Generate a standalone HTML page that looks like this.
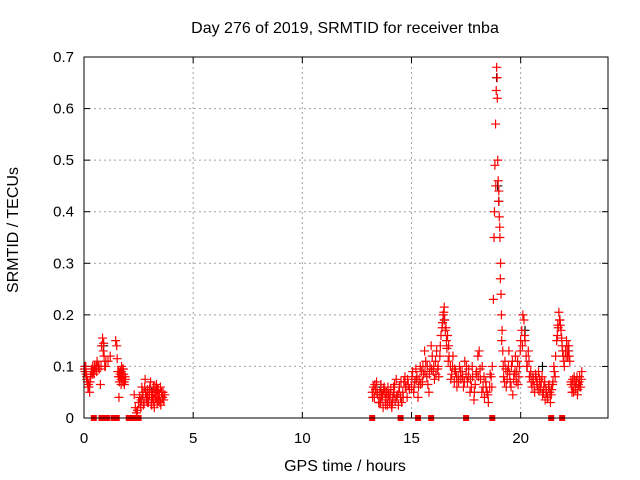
<!DOCTYPE html>
<html><head><meta charset="utf-8"><style>
body{margin:0;background:#fff}
svg{display:block;font-family:"Liberation Sans",sans-serif}
</style></head><body>
<svg id="chart" width="640" height="480">
<text x="345" y="33" font-size="16" text-anchor="middle">Day 276 of 2019, SRMTID for receiver tnba</text>
<text x="18" y="230" font-size="16" text-anchor="middle" transform="rotate(-90 18 230)">SRMTID / TECUs</text>
<text x="345" y="471" font-size="16" text-anchor="middle">GPS time / hours</text>
<g id="grid"></g>
<g id="ticks"></g>
<g id="marks"></g>
<rect x="84" y="57" width="524" height="361" fill="none" stroke="#000"/>
</svg>
<script>
const xTicks=[0,5,10,15,20];
const yTicks=[0,0.1,0.2,0.3,0.4,0.5,0.6,0.7];
const yTickLabels=["0","0.1","0.2","0.3","0.4","0.5","0.6","0.7"];
const times=[0.02,0.05,0.08,0.1,0.13,0.16,0.2,0.23,0.26,0.3,0.33,0.36,0.4,0.43,0.46,0.5,0.55,0.6,0.65,0.7,0.75,0.8,0.85,0.88,0.9,0.92,0.95,1.0,1.1,1.2,
1.45,1.5,1.52,1.55,1.58,1.6,1.62,1.65,1.68,1.7,1.72,1.75,1.78,1.8,1.82,1.85,1.88,1.9,
2.3,2.35,2.4,2.5,2.55,2.6,2.65,2.7,2.75,2.8,2.85,2.9,2.95,3.0,3.05,3.1,3.15,3.2,3.25,3.3,3.35,3.4,3.45,3.5,3.55,3.6,3.65,3.7,
2.62,2.72,2.82,2.92,3.02,3.12,3.22,3.32,3.42,3.52,3.62,
13.2,13.25,13.3,13.35,13.4,13.45,13.5,13.55,13.6,13.65,13.7,13.75,13.8,13.85,13.9,13.95,14.0,14.05,14.1,14.15,14.2,14.25,14.3,14.35,14.4,14.45,14.5,14.55,14.6,14.65,14.7,14.75,14.8,14.85,14.9,
15.0,15.05,15.1,15.15,15.2,15.25,15.3,15.35,15.4,15.45,15.5,15.55,15.6,15.65,15.7,15.75,15.8,15.85,15.9,15.95,16.0,16.05,16.1,16.15,16.2,16.25,16.3,
16.35,16.4,16.45,16.5,16.52,16.55,16.6,16.62,16.65,16.7,16.72,
16.78,16.84,16.9,16.96,17.02,17.08,17.14,17.2,17.26,17.32,17.38,17.44,17.5,17.56,17.62,17.68,17.74,17.8,17.86,17.92,17.98,18.04,18.1,18.16,18.22,18.28,18.34,18.4,18.46,18.52,18.58,
18.65,18.7,18.75,18.78,18.82,18.85,18.88,18.9,18.92,18.95,18.97,19.0,19.02,19.05,19.08,19.1,19.12,19.15,19.18,
19.22,19.28,19.34,19.4,19.46,19.52,19.58,19.64,19.7,19.76,19.82,19.88,19.94,20.0,
20.05,20.1,20.15,20.2,20.25,20.3,20.35,20.4,
20.46,20.52,20.58,20.64,20.7,20.76,20.82,20.88,20.94,21.0,21.06,21.12,21.18,21.24,21.3,21.36,21.42,21.48,21.54,21.6,
21.65,21.7,21.75,21.8,21.85,21.9,21.95,22.0,22.05,22.1,22.15,22.2,22.25,
22.3,22.35,22.4,22.45,22.5,22.55,22.6,22.65,22.7,22.75,22.8];
const values=[0.095,0.09,0.1,0.085,0.075,0.07,0.065,0.06,0.05,0.08,0.09,0.095,0.1,0.09,0.085,0.095,0.1,0.11,0.1,0.095,0.065,0.14,0.155,0.13,0.145,0.12,0.1,0.11,0.11,0.12,
0.15,0.14,0.115,0.09,0.08,0.04,0.07,0.085,0.09,0.075,0.1,0.08,0.07,0.095,0.085,0.065,0.08,0.075,
0.045,0.02,0.01,0.03,0.04,0.02,0.06,0.05,0.03,0.075,0.04,0.055,0.03,0.045,0.07,0.025,0.05,0.035,0.06,0.04,0.03,0.055,0.045,0.03,0.05,0.04,0.035,0.045,
0.035,0.025,0.05,0.03,0.06,0.045,0.02,0.065,0.035,0.025,0.05,
0.05,0.06,0.04,0.055,0.07,0.045,0.03,0.05,0.065,0.04,0.02,0.06,0.035,0.05,0.025,0.045,0.03,0.055,0.02,0.04,0.05,0.035,0.075,0.045,0.025,0.06,0.04,0.03,0.05,0.07,0.08,0.06,0.04,0.065,0.055,
0.06,0.09,0.05,0.07,0.095,0.08,0.04,0.075,0.1,0.09,0.07,0.085,0.13,0.11,0.08,0.065,0.05,0.1,0.14,0.12,0.09,0.075,0.11,0.13,0.095,0.08,0.12,
0.16,0.175,0.2,0.215,0.19,0.17,0.15,0.135,0.16,0.14,0.12,
0.1,0.085,0.12,0.07,0.09,0.06,0.08,0.1,0.075,0.09,0.06,0.11,0.085,0.07,0.095,0.05,0.06,0.08,0.035,0.065,0.09,0.12,0.13,0.075,0.05,0.06,0.04,0.07,0.05,0.03,0.06,
0.08,0.1,0.23,0.35,0.49,0.57,0.635,0.68,0.66,0.5,0.46,0.44,0.39,0.35,0.3,0.24,0.2,0.17,0.13,
0.08,0.11,0.06,0.09,0.13,0.07,0.1,0.045,0.085,0.12,0.09,0.065,0.1,0.15,
0.17,0.2,0.19,0.15,0.12,0.1,0.13,0.08,
0.09,0.06,0.075,0.05,0.08,0.065,0.09,0.055,0.07,0.045,0.06,0.035,0.05,0.04,0.065,0.03,0.055,0.07,0.09,0.12,
0.15,0.18,0.205,0.19,0.17,0.14,0.12,0.1,0.13,0.15,0.12,0.14,0.11,
0.07,0.05,0.06,0.08,0.055,0.07,0.045,0.065,0.08,0.06,0.09];
const times2=[0.04,0.12,0.18,0.28,0.38,0.48,0.58,0.68,0.78,0.98,1.6,1.66,1.74,1.84,1.7,1.76,
2.45,2.58,2.68,2.78,2.88,2.98,3.08,3.18,3.28,3.38,3.48,3.58,2.9,3.0,3.1,3.2,3.3,3.4,3.5,3.15,3.25,3.35,
13.22,13.32,13.42,13.52,13.62,13.72,13.82,13.92,14.02,14.12,14.22,14.32,14.42,14.52,14.62,14.72,14.82,13.58,13.68,13.78,13.88,13.98,14.08,14.18,
15.02,15.12,15.22,15.32,15.42,15.52,15.62,15.72,15.82,15.92,16.02,16.12,16.22,16.32,16.42,16.48,16.58,16.68,
16.8,16.88,16.98,17.06,17.16,17.24,17.34,17.42,17.52,17.6,17.7,17.78,17.88,17.96,18.06,18.14,18.24,18.32,18.42,18.5,18.6,18.68,
18.8,18.86,18.93,18.99,19.04,19.07,19.13,
19.2,19.26,19.32,19.38,19.44,19.5,19.56,19.62,19.68,19.74,19.8,19.86,19.92,19.98,20.08,20.18,20.28,20.38,
20.48,20.56,20.62,20.68,20.74,20.8,20.86,20.92,20.98,21.04,21.1,21.16,21.22,21.28,21.34,21.4,21.46,21.52,21.58,
21.68,21.72,21.78,21.82,21.88,21.92,21.98,22.08,22.12,22.18,22.22,
22.32,22.38,22.42,22.48,22.52,22.58,22.62,22.68,22.72,22.78];
const values2=[0.1,0.08,0.06,0.07,0.085,0.1,0.09,0.1,0.1,0.1,0.09,0.08,0.095,0.07,0.065,0.085,
0.015,0.03,0.045,0.06,0.035,0.05,0.03,0.06,0.04,0.05,0.03,0.04,0.04,0.055,0.045,0.03,0.05,0.035,0.06,0.04,0.05,0.055,
0.04,0.065,0.05,0.03,0.045,0.055,0.025,0.06,0.045,0.03,0.065,0.04,0.05,0.07,0.04,0.06,0.075,0.03,0.045,0.05,0.04,0.035,0.025,0.06,
0.08,0.06,0.075,0.06,0.065,0.1,0.09,0.1,0.085,0.095,0.1,0.085,0.1,0.14,0.185,0.205,0.175,0.11,
0.075,0.1,0.095,0.08,0.07,0.09,0.08,0.07,0.1,0.08,0.075,0.1,0.05,0.085,0.08,0.095,0.1,0.08,0.06,0.045,0.085,0.06,
0.4,0.45,0.62,0.42,0.37,0.27,0.15,
0.1,0.07,0.095,0.075,0.1,0.085,0.06,0.11,0.075,0.09,0.07,0.11,0.08,0.13,0.14,0.16,0.1,0.11,
0.07,0.08,0.06,0.085,0.07,0.055,0.075,0.06,0.08,0.05,0.07,0.055,0.04,0.06,0.05,0.045,0.065,0.1,0.08,
0.16,0.175,0.19,0.18,0.155,0.13,0.11,0.12,0.14,0.13,0.12,
0.065,0.075,0.05,0.07,0.06,0.08,0.055,0.07,0.06,0.075];
const blackTimes=[0.05,0.9,1.7,3.1,13.6,16.5,18.9,18.95,19.0,20.2,21.0,22.2];
const blackValues=[0.1,0.14,0.09,0.05,0.06,0.19,0.66,0.45,0.42,0.17,0.1,0.13];
const gapTimes=[0.45,0.8,1.05,1.35,1.5,2.05,2.2,2.35,2.5,13.2,14.5,15.3,15.9,17.5,18.7,21.4,21.9];

const NS='http://www.w3.org/2000/svg';
const X0=84,X1=608,Y0=418,Y1=57;
const xs=t=>X0+t/24*(X1-X0);
const ys=v=>Y0-v/0.7*(Y0-Y1);
const grid=document.getElementById('grid'),ticks=document.getElementById('ticks'),marks=document.getElementById('marks');
function mk(tag,attrs,parent){const e=document.createElementNS(NS,tag);for(const k in attrs)e.setAttribute(k,attrs[k]);parent.appendChild(e);return e;}
yTicks.forEach((v,i)=>{
  const y=ys(v);
  if(v>0&&v<0.7){const g=mk('line',{x1:X0,x2:X1,y1:y,y2:y,stroke:'#a0a0a0','stroke-dasharray':'2,3'},grid);
  
  }
  const t1=mk('line',{x1:X0,x2:X0+6,y1:y,y2:y,stroke:'#000'},ticks);
  
  
  const t2=mk('line',{x1:X1-6,x2:X1,y1:y,y2:y,stroke:'#000'},ticks);
  
  
  const l=mk('text',{x:X0-10,y:y+5,'font-size':15,'text-anchor':'end'},ticks);l.textContent=yTickLabels[i];
  
  
});
xTicks.forEach(t=>{
  const x=xs(t);
  if(t>0){const g=mk('line',{x1:x,x2:x,y1:Y1,y2:Y0,stroke:'#a0a0a0','stroke-dasharray':'2,3'},grid);
  
  }
  const t1=mk('line',{x1:x,x2:x,y1:Y0,y2:Y0-6,stroke:'#000'},ticks);
  
  
  const t2=mk('line',{x1:x,x2:x,y1:Y1,y2:Y1+6,stroke:'#000'},ticks);
  
  
  const l=mk('text',{x:x,y:Y0+25,'font-size':15,'text-anchor':'middle'},ticks);l.textContent=String(t);
  
  
});
function plus(t,v,color){
  const x=xs(t),y=ys(v);
  const p=mk('path',{d:`M${x-4.5},${y}h9M${x},${y-4.5}v9`,stroke:color,'stroke-width':1.2,fill:'none'},marks);
  
  
}
blackTimes.forEach((t,i)=>plus(t,blackValues[i],'#000'));
times.forEach((t,i)=>plus(t,values[i],'#f00'));
times2.forEach((t,i)=>plus(t,values2[i],'#f00'));
gapTimes.forEach(t=>{
  const r=mk('rect',{x:xs(t)-3,y:Y0-3,width:6,height:6,fill:'#f00'},marks);
  
  
});
</script>
</body></html>
